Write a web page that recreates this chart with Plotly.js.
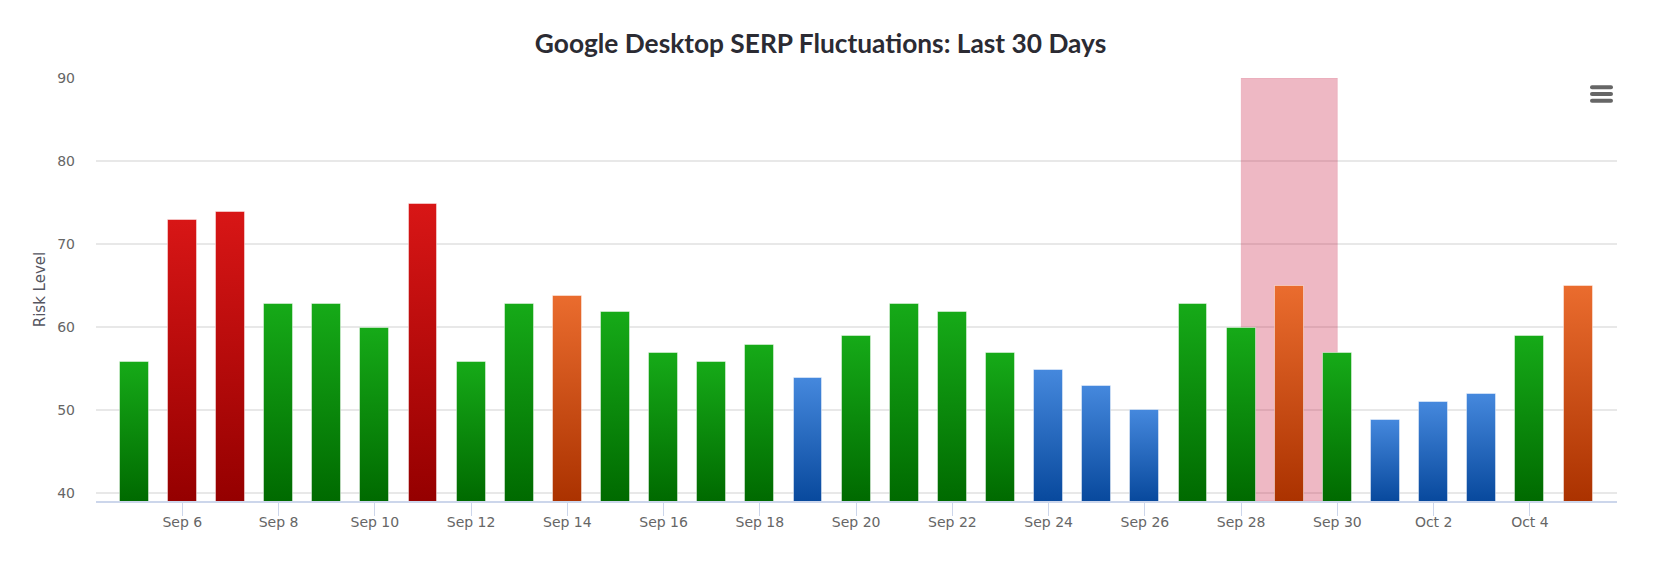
<!DOCTYPE html>
<html><head><meta charset="utf-8">
<script src="https://cdn.plot.ly/plotly-3.0.1.min.js"></script>
<style>html,body{margin:0;padding:0;background:#fff}#chart{width:1656px;height:572px}</style>
</head><body><div id="chart"></div>
<script>
const dates = ["2023-09-05","2023-09-06","2023-09-07","2023-09-08","2023-09-09","2023-09-10","2023-09-11","2023-09-12","2023-09-13","2023-09-14","2023-09-15","2023-09-16","2023-09-17","2023-09-18","2023-09-19","2023-09-20","2023-09-21","2023-09-22","2023-09-23","2023-09-24","2023-09-25","2023-09-26","2023-09-27","2023-09-28","2023-09-29","2023-09-30","2023-10-01","2023-10-02","2023-10-03","2023-10-04","2023-10-05"];
const riskLevel = [55.8,72.9,73.85,62.8,62.8,59.9,74.8,55.8,62.8,63.75,61.8,56.8,55.8,57.8,53.8,58.9,62.8,61.8,56.8,54.8,52.9,50,62.8,59.9,64.9,56.8,48.8,50.95,51.9,58.9,64.9];
const bands = ["green","red","red","green","green","green","red","green","green","orange","green","green","green","green","blue","green","green","green","green","blue","blue","blue","green","green","orange","green","blue","blue","blue","green","orange"];
const bandTop = {green:"#16aa18",red:"#d81616",orange:"#ea6c2e",blue:"#4588dd"};
const bandBottom = {green:"#006a00",red:"#950000",orange:"#ab3200",blue:"#08499d"};
const tickDates = ["2023-09-06","2023-09-08","2023-09-10","2023-09-12","2023-09-14","2023-09-16","2023-09-18","2023-09-20","2023-09-22","2023-09-24","2023-09-26","2023-09-28","2023-09-30","2023-10-02","2023-10-04"];
const tickLabels = ["Sep 6","Sep 8","Sep 10","Sep 12","Sep 14","Sep 16","Sep 18","Sep 20","Sep 22","Sep 24","Sep 26","Sep 28","Sep 30","Oct 2","Oct 4"];
const highlight = ["2023-09-28","2023-09-30"];
const titleText = "Google Desktop SERP Fluctuations: Last 30 Days";

const W=1656,H=572,L=96,R=1617,T=78,B=501.5;
const px=v=>(v-L)/(R-L), py=v=>1-(v-T)/(B-T);
const menuLines=[87.3,94,100.7].map(y=>({type:"line",xref:"paper",yref:"paper",x0:px(1592),x1:px(1611),y0:py(y),y1:py(y),layer:"above",line:{color:"#666666",width:4}}));

const trace={type:"bar",x:dates,y:riskLevel,width:0.6*864e5,
  marker:{color:bands.map(b=>bandTop[b]),line:{color:"rgba(255,255,255,0.45)",width:1}},hoverinfo:"x+y"};
const axisFont={family:"'DejaVu Sans',sans-serif",size:14,color:"#666666"};
const layout={width:W,height:H,paper_bgcolor:"#fff",plot_bgcolor:"#fff",showlegend:false,
  margin:{l:L,r:W-R,t:T,b:H-B,pad:0},
  title:{text:titleText,x:0.4955,xanchor:"center",y:0.9233,yanchor:"middle",font:{family:"Lato,sans-serif",size:26.3,color:"#2b2b33",weight:700}},
  xaxis:{type:"date",range:["2023-09-04 04:58","2023-10-05 19:25"],tickmode:"array",tickvals:tickDates,ticktext:tickLabels,
    ticks:"outside",ticklen:13,tickwidth:1,tickcolor:"#ccd6eb",showgrid:false,showline:true,linecolor:"#ccd6eb",linewidth:2,zeroline:false,tickfont:axisFont,ticklabelstandoff:-6},
  yaxis:{range:[39,90],tickmode:"linear",tick0:40,dtick:10,ticks:"",gridcolor:"#e8e8e8",gridwidth:1.5,zeroline:false,showline:false,tickfont:axisFont,ticklabelstandoff:20,
    title:{text:"Risk Level",standoff:7,font:{family:"'DejaVu Sans',sans-serif",size:15,color:"#555560"}}},
  shapes:[{type:"rect",xref:"x",yref:"y",x0:highlight[0],x1:highlight[1],y0:39,y1:90,layer:"between",fillcolor:"rgba(200,20,60,0.3)",line:{color:"rgba(200,20,60,0.1)",width:1}}].concat(menuLines),
  bargap:0};
const gd=document.getElementById("chart");
Plotly.newPlot(gd,[trace],layout,{displayModeBar:false,responsive:false}).then(()=>{
  const NS="http://www.w3.org/2000/svg";
  const svg=gd.querySelector(".main-svg");
  let defs=svg.querySelector("defs");
  if(!defs){defs=document.createElementNS(NS,"defs");svg.insertBefore(defs,svg.firstChild);}
  const ya=gd._fullLayout.yaxis;
  gd.querySelectorAll(".bars .point path").forEach((p,i)=>{
    const g=document.createElementNS(NS,"linearGradient");
    g.setAttribute("id","barGrad"+i);
    g.setAttribute("gradientUnits","userSpaceOnUse");
    g.setAttribute("x1","0");g.setAttribute("x2","0");
    g.setAttribute("y1",ya.d2p(riskLevel[i]));g.setAttribute("y2",ya.d2p(ya.range[0]));
    [[0,bandTop[bands[i]]],[1,bandBottom[bands[i]]]].forEach(([o,c])=>{
      const s=document.createElementNS(NS,"stop");s.setAttribute("offset",o);s.setAttribute("stop-color",c);g.appendChild(s);});
    defs.appendChild(g);
    p.style.fill="url(#barGrad"+i+")";
  });
  gd.querySelectorAll(".layer-above .shapelayer path").forEach(p=>{p.style.strokeLinecap="round";});
});
</script></body></html>
